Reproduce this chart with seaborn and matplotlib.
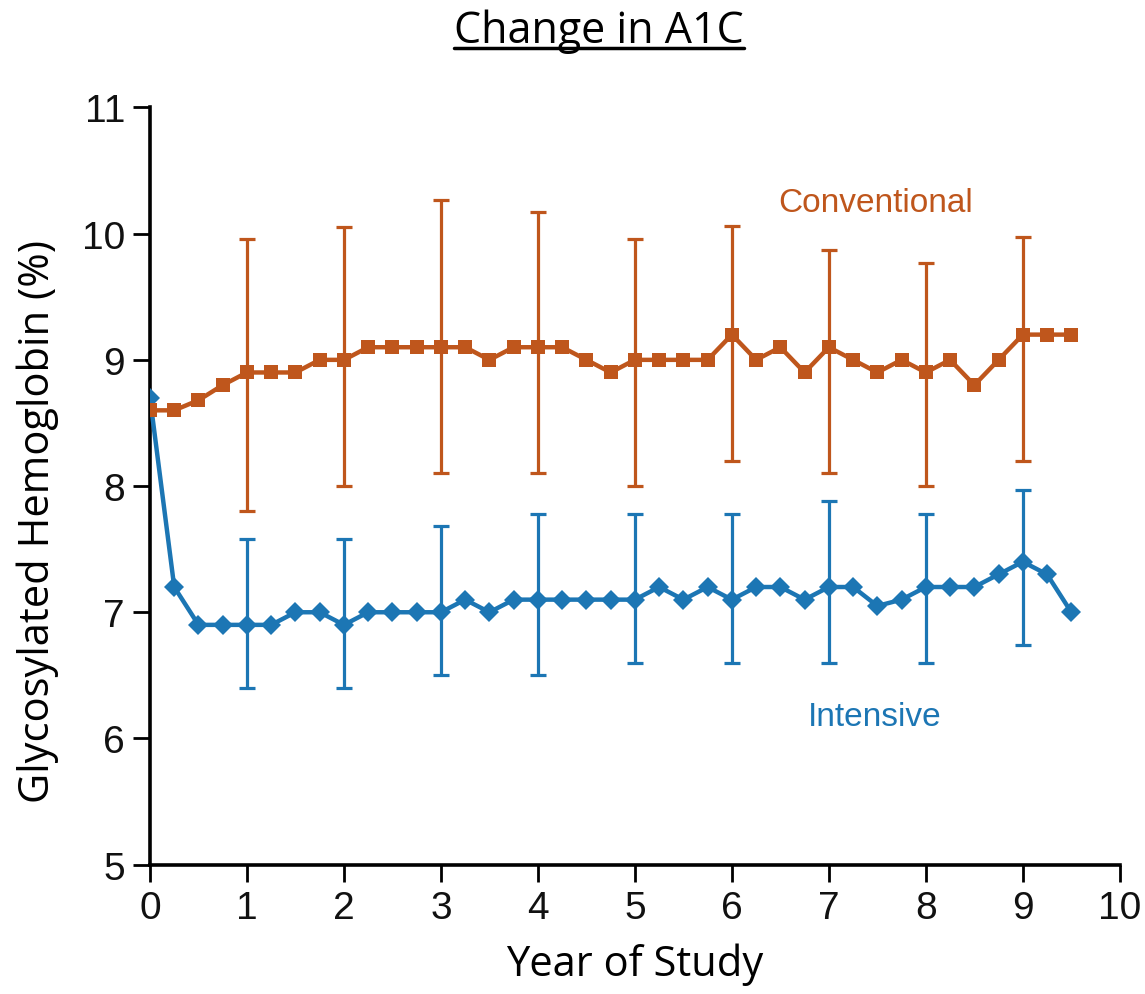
import numpy as np
import pandas as pd
import matplotlib
matplotlib.use("Agg")
import matplotlib.pyplot as plt
import seaborn as sns
from matplotlib.lines import Line2D

# ---------------- data ----------------
years = [0, 0.25, 0.5, 0.75, 1, 1.25, 1.5, 1.75, 2, 2.25, 2.5, 2.75, 3, 3.25, 3.5, 3.75,
         4, 4.25, 4.5, 4.75, 5, 5.25, 5.5, 5.75, 6, 6.25, 6.5, 6.75, 7, 7.25, 7.5, 7.75,
         8, 8.25, 8.5, 8.75, 9, 9.25, 9.5]
conventional = [8.6, 8.6, 8.68, 8.8, 8.9, 8.9, 8.9, 9.0, 9.0, 9.1, 9.1, 9.1, 9.1, 9.1, 9.0, 9.1,
                9.1, 9.1, 9.0, 8.9, 9.0, 9.0, 9.0, 9.0, 9.2, 9.0, 9.1, 8.9, 9.1, 9.0, 8.9, 9.0,
                8.9, 9.0, 8.8, 9.0, 9.2, 9.2, 9.2]
intensive = [8.7, 7.2, 6.9, 6.9, 6.9, 6.9, 7.0, 7.0, 6.9, 7.0, 7.0, 7.0, 7.0, 7.1, 7.0, 7.1,
             7.1, 7.1, 7.1, 7.1, 7.1, 7.2, 7.1, 7.2, 7.1, 7.2, 7.2, 7.1, 7.2, 7.2, 7.05, 7.1,
             7.2, 7.2, 7.2, 7.3, 7.4, 7.3, 7.0]

err_years = [1, 2, 3, 4, 5, 6, 7, 8, 9]
conv_low = [7.8, 8.0, 8.1, 8.1, 8.0, 8.2, 8.1, 8.0, 8.2]
conv_high = [9.96, 10.05, 10.27, 10.17, 9.96, 10.06, 9.87, 9.77, 9.97]
int_low = [6.4, 6.4, 6.5, 6.5, 6.6, 6.6, 6.6, 6.6, 6.74]
int_high = [7.58, 7.58, 7.68, 7.78, 7.78, 7.78, 7.88, 7.78, 7.97]

x_ticks = [0, 1, 2, 3, 4, 5, 6, 7, 8, 9, 10]
y_ticks = [5, 6, 7, 8, 9, 10, 11]

title = "Change in A1C"
xlabel = "Year of Study"
ylabel = "Glycosylated Hemoglobin (%)"
conv_name = "Conventional"
int_name = "Intensive"

# ---------------- style ----------------
sns.set_theme(style="ticks")
plt.rcParams['font.family'] = ['Liberation Sans', 'DejaVu Sans']

c_conv = "#BF561C"
c_int = "#1C76B4"

df = pd.DataFrame({
    "year": years * 2,
    "a1c": conventional + intensive,
    "group": [conv_name] * len(years) + [int_name] * len(years),
})

fig = plt.figure(figsize=(11.45, 9.95), dpi=100)
ax = fig.add_axes([0.131, 0.130, 0.847, 0.761])

def idx(y):
    return years.index(y)

conv_mid = np.array([conventional[idx(y)] for y in err_years])
int_mid = np.array([intensive[idx(y)] for y in err_years])
ax.errorbar(err_years, conv_mid,
            yerr=[conv_mid - np.array(conv_low), np.array(conv_high) - conv_mid],
            fmt="none", ecolor=c_conv, elinewidth=2.3, capsize=5.5, capthick=2.3, zorder=2)
ax.errorbar(err_years, int_mid,
            yerr=[int_mid - np.array(int_low), np.array(int_high) - int_mid],
            fmt="none", ecolor=c_int, elinewidth=2.3, capsize=5.5, capthick=2.3, zorder=2)

sns.lineplot(data=df[df.group == int_name], x="year", y="a1c", ax=ax, color=c_int,
             marker="D", markersize=10.5, markeredgewidth=0, linewidth=3.2, zorder=3, legend=False)
sns.lineplot(data=df[df.group == conv_name], x="year", y="a1c", ax=ax, color=c_conv,
             marker="s", markersize=10, markeredgewidth=0, linewidth=3.2, zorder=4, legend=False)

ax.set_xlim(0, 10)
ax.set_ylim(5, 11)
ax.set_xticks(x_ticks)
ax.set_yticks(y_ticks)
ax.set_xticklabels([str(t) for t in x_ticks])
ax.set_yticklabels([str(t) for t in y_ticks])
ax.tick_params(axis="both", labelsize=28, length=12, width=2, color="black",
               direction="out", pad=6, labelcolor="#111111")
for s in ["top", "right"]:
    ax.spines[s].set_visible(False)
for s in ["left", "bottom"]:
    ax.spines[s].set_linewidth(2.6)
    ax.spines[s].set_color("black")
for lab in ax.get_xticklabels() + ax.get_yticklabels():
    lab.set_clip_on(False)

ax.set_xlabel(xlabel, fontsize=30, family=['Open Sans', 'DejaVu Sans'], labelpad=12, color="black")
ax.set_ylabel(ylabel, fontsize=30, family=['Open Sans', 'DejaVu Sans'], color="black")
ax.yaxis.set_label_coords(-0.094, 0.454)

ax.text(7.48, 10.25, conv_name, color=c_conv, fontsize=24, ha="center", va="center")
ax.text(7.47, 6.17, int_name, color=c_int, fontsize=24, ha="center", va="center")

t = fig.text(0.523, 0.99, title, fontsize=31, family=['Open Sans', 'DejaVu Sans'],
             ha="center", va="top", color="black")

fig.canvas.draw()
bb = t.get_window_extent(renderer=fig.canvas.get_renderer())
inv = fig.transFigure.inverted()
(x0, y0), (x1, y1) = inv.transform([[bb.x0, bb.y0], [bb.x1, bb.y1]])
fig.add_artist(Line2D([x0, x1], [y0 + 0.005, y0 + 0.005], color="black", linewidth=2.5,
                      transform=fig.transFigure))

fig.savefig("out.png", dpi=100, facecolor="white")
